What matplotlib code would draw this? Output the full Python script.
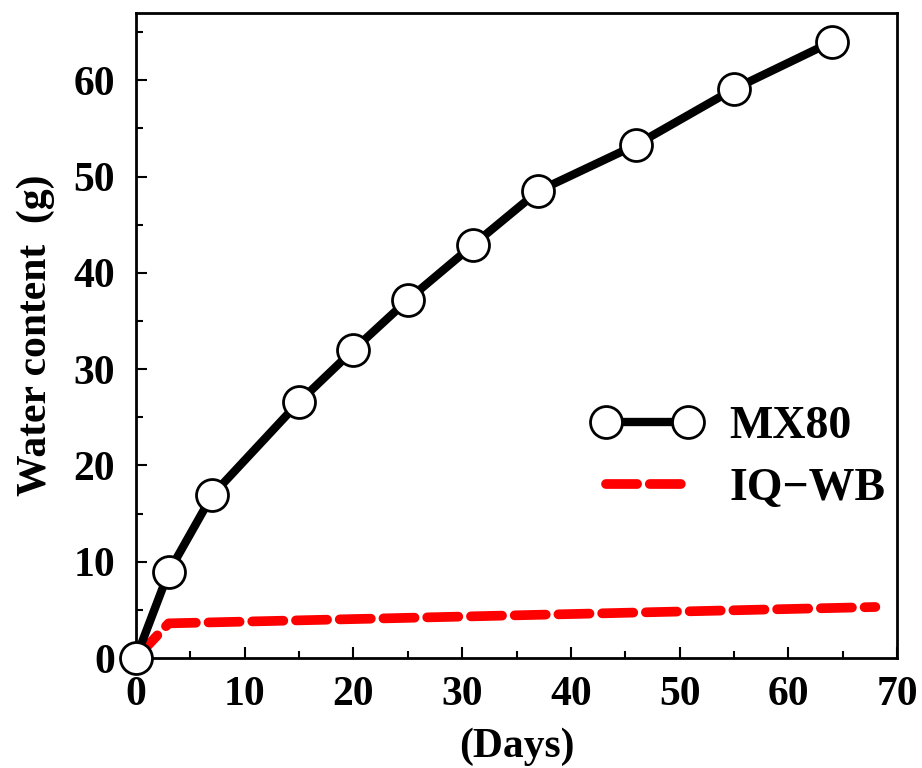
import numpy as np
import matplotlib.pyplot as plt
from matplotlib.ticker import MultipleLocator

# MX80 measured water uptake
mx80_days = [0, 3, 7, 15, 20, 25, 31, 37, 46, 55, 64]
mx80_water = [0, 8.9, 16.9, 26.6, 32.0, 37.2, 42.9, 48.5, 53.3, 59.1, 64.0]

# IQ-WB model curve
iqwb_days = [0, 3, 68]
iqwb_water = [0, 3.6, 5.3]

plt.rcParams['font.family'] = ['Liberation Serif', 'DejaVu Serif']
plt.rcParams['font.weight'] = 'bold'

fig = plt.figure(figsize=(9.22, 7.68), dpi=100)
ax = fig.add_axes([0.1475, 0.1432, 0.8255, 0.84])

ax.plot(mx80_days, mx80_water, color='black', lw=6, marker='o', ms=23,
        mfc='white', mec='black', mew=2, label='MX80', clip_on=False, zorder=3)
ax.plot(iqwb_days, iqwb_water, color='red', lw=7, ls=(0, (3.2, 1.3)),
        dash_capstyle='round', label='IQ\u2212WB', zorder=2)

ax.set_xlim(0, 70)
ax.set_ylim(0, 67)
ax.xaxis.set_major_locator(MultipleLocator(10))
ax.xaxis.set_minor_locator(MultipleLocator(5))
ax.yaxis.set_major_locator(MultipleLocator(10))
ax.yaxis.set_minor_locator(MultipleLocator(5))
ax.tick_params(which='both', direction='in', width=1.5, labelsize=30, top=False, right=False)
ax.tick_params(which='major', length=8)
ax.tick_params(axis='x', which='major', pad=13)
ax.tick_params(axis='y', which='major', pad=15)
ax.tick_params(which='minor', length=5)
for s in ax.spines.values():
    s.set_linewidth(2)

ax.set_xlabel('(Days)', fontsize=30, fontweight='bold', labelpad=10)
ax.set_ylabel('Water content  (g)', fontsize=30, fontweight='bold', labelpad=13)

ax.legend(loc='center left', bbox_to_anchor=(0.545, 0.31), frameon=False,
          fontsize=33, numpoints=2, handlelength=2.4, handletextpad=0.6, labelspacing=0.45)

fig.savefig('out.png', dpi=100)
